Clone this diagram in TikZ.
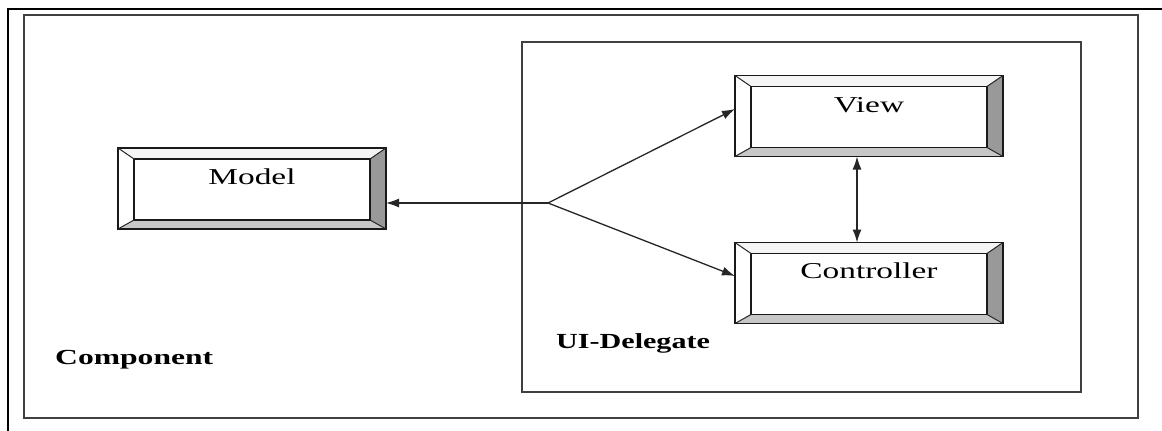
\documentclass[tikz,border=0pt]{standalone}
\usepackage{fontspec}
\setmainfont{Liberation Serif}
\usetikzlibrary{arrows.meta,calc}
\tikzset{
  boxnode/.style={inner sep=0pt, outer sep=0pt, minimum width=268pt, minimum height=81pt},
  boxtxt/.style={anchor=base, inner sep=0pt, font=\fontsize{22.7}{27}\selectfont},
  boldtxt/.style={anchor=base west, inner sep=0pt, font=\fontsize{21.5}{26}\selectfont\bfseries},
  frameline/.style={draw=black!75, line width=1.6pt},
  conn/.style={draw=black!85, line width=1.3pt},
  arr/.style={conn, -{Latex[length=13pt,width=9pt]}},
  darr/.style={conn, {Latex[length=13pt,width=9pt]}-{Latex[length=13pt,width=9pt]}},
  bevelline/.style={draw=black!90, line width=1.6pt, line join=miter},
}
\newcommand\bevelbox[1]{%
  \coordinate (#1-a) at ([shift={(16,11)}]#1.north west);
  \coordinate (#1-b) at ([shift={(-16,11)}]#1.north east);
  \coordinate (#1-c) at ([shift={(-16,-9)}]#1.south east);
  \coordinate (#1-d) at ([shift={(16,-9)}]#1.south west);
  \fill[white!96!black] (#1.north west) -- (#1.north east) -- (#1-b) -- (#1-a) -- cycle;
  \fill[white] (#1.north west) -- (#1-a) -- (#1-d) -- (#1.south west) -- cycle;
  \fill[black!40] (#1.north east) -- (#1.south east) -- (#1-c) -- (#1-b) -- cycle;
  \fill[black!22] (#1.south west) -- (#1-d) -- (#1-c) -- (#1.south east) -- cycle;
  \draw[bevelline] (#1.north west) rectangle (#1.south east);
  \draw[bevelline] (#1-a) rectangle (#1-c);
  \draw[black!85, line width=1pt] (#1.north west) -- (#1-a) (#1.north east) -- (#1-b)
    (#1.south east) -- (#1-c) (#1.south west) -- (#1-d);
}
\begin{document}
\begin{tikzpicture}[x=1pt, y=-1pt]
\useasboundingbox (0,0) rectangle (1162,431);
\fill[white] (0,0) rectangle (1162,431);
% outer page border (top and left)
\draw[black, line width=1.6pt] (8,431) -- (8,9) -- (1162,9);
% component frame
\node[frameline, inner sep=0pt, minimum width=1114pt, minimum height=403pt] (comp) at (581,216.5) {};
\node[boldtxt] (comptxt) at (55,364) {\scalebox{1.47}[1]{Component}};
% UI delegate frame
\node[frameline, inner sep=0pt, minimum width=559pt, minimum height=350pt] (ui) at (801.5,217) {};
\node[boldtxt] (uitxt) at (556,348) {\scalebox{1.4}[1]{UI-Delegate}};
% boxes
\node[boxnode] (model) at (252,188.5) {};
\bevelbox{model}
\node[boxtxt] (modeltxt) at (252,184) {\scalebox{1.47}[1]{Model}};
\node[boxnode] (view) at (869,116) {};
\bevelbox{view}
\node[boxtxt] (viewtxt) at (869,112) {\scalebox{1.47}[1]{View}};
\node[boxnode] (ctrl) at (869,283) {};
\bevelbox{ctrl}
\node[boxtxt] (ctrltxt) at (869,278) {\scalebox{1.47}[1]{Controller}};
% connectors
\coordinate (j) at (548,203);
\draw[arr] (j) -- (j -| model.east);
\draw[arr] (j) -- ([yshift=7]view.west);
\draw[arr] (j) -- ([yshift=7]ctrl.west);
\draw[darr] ([xshift=-12]view.south) -- ([xshift=-12]ctrl.north);
\end{tikzpicture}
\end{document}
